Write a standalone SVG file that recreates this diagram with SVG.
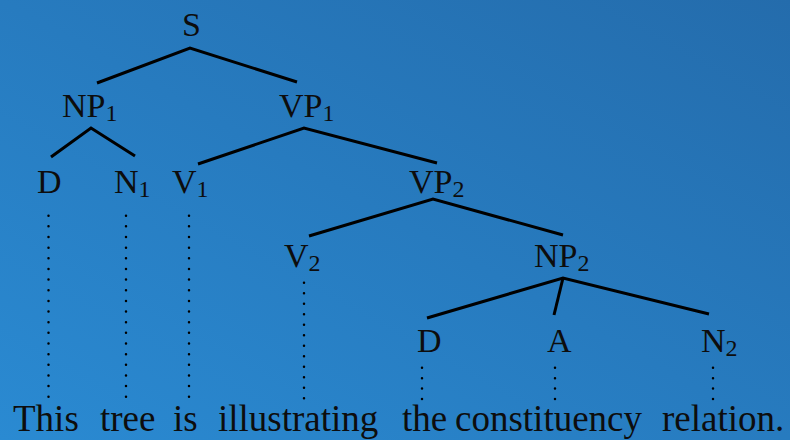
<svg xmlns="http://www.w3.org/2000/svg" width="790" height="440" viewBox="0 0 790 440">
  <defs>
    <linearGradient id="bg" x1="0" y1="1" x2="1" y2="0">
      <stop offset="0" stop-color="#2a8ad2"/>
      <stop offset="1" stop-color="#246cac"/>
    </linearGradient>
    <style>
      .lbl { font-family: 'Liberation Serif', 'DejaVu Serif', serif; font-size: 34px; fill: #0d0d0d; }
      .sub { font-size: 24px; }
      .word { font-family: 'Liberation Serif', 'DejaVu Serif', serif; font-size: 37px; fill: #0d0d0d; }
      .edge { stroke: #000; stroke-width: 3; fill: none; }
      .dot { stroke: #000; stroke-width: 2.5; stroke-linecap: round; fill: none; }
    </style>
  </defs>
  <rect x="0" y="0" width="790" height="440" fill="url(#bg)"/>

  <g id="connectors">
    <path class="edge" d="M97 83 L190 48 L297 82"/>
    <path class="edge" d="M51 157 L91 128 L135 156"/>
    <path class="edge" d="M198 164 L304 128 L437 163"/>
    <path class="edge" d="M309 236 L433 199 L563 235"/>
    <path class="edge" d="M427 318 L563 278 L709 314"/>
    <path class="edge" d="M554 315 L563 278"/>
    <path class="dot" d="M48.5 215.7 V397" stroke-dasharray="0 10.65"/>
    <path class="dot" d="M126 215.7 V397" stroke-dasharray="0 10.65"/>
    <path class="dot" d="M189 215.7 V397" stroke-dasharray="0 10.65"/>
    <path class="dot" d="M304 282.7 V399" stroke-dasharray="0 10.5"/>
    <path class="dot" d="M422 367.7 V400" stroke-dasharray="0 10.43"/>
    <path class="dot" d="M555 367.7 V400" stroke-dasharray="0 10.43"/>
    <path class="dot" d="M713 367.7 V400" stroke-dasharray="0 10.43"/>
  </g>

  <g id="S"><text class="lbl" x="182" y="36">S</text></g>
  <g id="NP1"><text class="lbl" x="62" y="117">NP<tspan class="sub" dy="4">1</tspan></text></g>
  <g id="VP1"><text class="lbl" x="279" y="117">VP<tspan class="sub" dy="4">1</tspan></text></g>
  <g id="D1"><text class="lbl" x="37" y="193">D</text></g>
  <g id="N1"><text class="lbl" x="114" y="193">N<tspan class="sub" dy="4">1</tspan></text></g>
  <g id="V1"><text class="lbl" x="172" y="193">V<tspan class="sub" dy="4">1</tspan></text></g>
  <g id="VP2"><text class="lbl" x="409" y="193">VP<tspan class="sub" dy="4">2</tspan></text></g>
  <g id="V2"><text class="lbl" x="284" y="267">V<tspan class="sub" dy="4">2</tspan></text></g>
  <g id="NP2"><text class="lbl" x="534" y="267">NP<tspan class="sub" dy="4">2</tspan></text></g>
  <g id="D2"><text class="lbl" x="417" y="352">D</text></g>
  <g id="A"><text class="lbl" x="547" y="352">A</text></g>
  <g id="N2"><text class="lbl" x="701" y="352">N<tspan class="sub" dy="4">2</tspan></text></g>

  <g id="sentence">
    <text class="word" x="13" y="431">This</text>
    <text class="word" x="100" y="431">tree</text>
    <text class="word" x="173" y="431">is</text>
    <text class="word" x="218" y="431">illustrating</text>
    <text class="word" x="402" y="431">the</text>
    <text class="word" x="455" y="431">constituency</text>
    <text class="word" x="662" y="431">relation.</text>
  </g>
</svg>
